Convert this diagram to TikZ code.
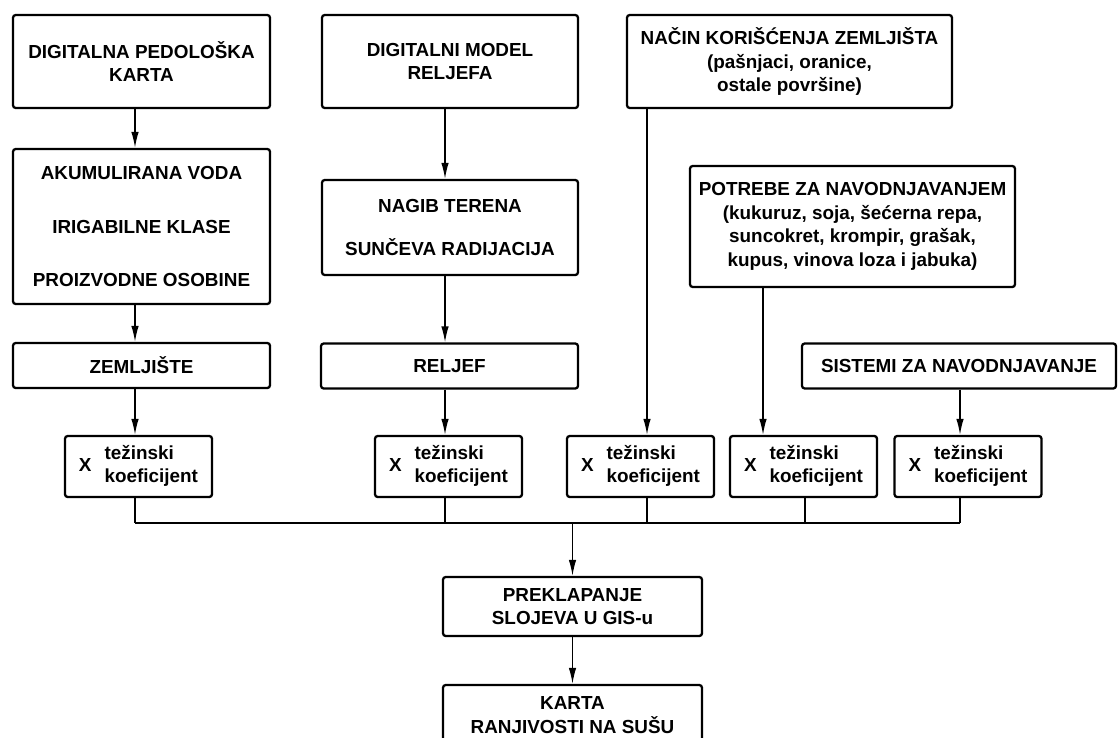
\documentclass[tikz,border=0pt]{standalone}
\usepackage{fontspec}
\setmainfont{Liberation Sans}
\usetikzlibrary{arrows.meta,positioning,calc}

\begin{document}
\begin{tikzpicture}[
  x=0.02cm, y=-0.02cm,
  font=\fontsize{10.75}{13.4}\selectfont\bfseries,
  box/.style={rectangle, draw, line width=1.3pt, rounded corners=1.5pt,
              align=center, inner sep=0pt},
  wbox/.style={box, minimum width=2.94cm, minimum height=1.22cm},
  link/.style={line width=0.8pt},
  arr/.style={link, -{Latex[length=3.2mm, width=1.5mm]}},
]
\useasboundingbox (0,0) rectangle (1118,737);
\clip (0,0) rectangle (1118,737);

% columns of the connectors
\coordinate (colA) at (135,0);
\coordinate (colB) at (445,0);
\coordinate (colC) at (647,0);
\coordinate (colD) at (763,0);
\coordinate (colE) at (960,0);
\coordinate (colF) at (805,0);

% soil
\node[box, minimum width=5.14cm, minimum height=1.86cm] (a1) at (141.5,61.5)
  {DIGITALNA PEDOLOŠKA\\KARTA};
\node[box, minimum width=5.14cm, minimum height=3.10cm] (a2) at (141.5,226.5)
  {AKUMULIRANA VODA\\[17pt]IRIGABILNE KLASE\\[17pt]PROIZVODNE OSOBINE};
\node[box, minimum width=5.14cm, minimum height=0.9cm] (a3) at (141.5,365.5)
  {ZEMLJIŠTE};

% relief
\node[box, minimum width=5.12cm, minimum height=1.86cm] (b1) at (450,61.5)
  {DIGITALNI MODEL\\RELJEFA};
\node[box, minimum width=5.12cm, minimum height=1.9cm] (b2) at (450,227.5)
  {NAGIB TERENA\\[11.6pt]SUNČEVA RADIJACIJA};
\node[box, minimum width=5.14cm, minimum height=0.9cm] (b3) at (449.5,366)
  {RELJEF};

% land use, irrigation
\node[box, minimum width=6.5cm, minimum height=1.86cm] (c1) at (789.5,61.5)
  {NAČIN KORIŠĆENJA ZEMLJIŠTA\\(pašnjaci, oranice,\\ostale površine)};
\node[box, minimum width=6.5cm, minimum height=2.42cm] (c2) at (852.5,226.5)
  {POTREBE ZA NAVODNJAVANJEM\\(kukuruz, soja, šećerna repa,\\suncokret, krompir, grašak,\\kupus, vinova loza i jabuka)};
\node[box, minimum width=6.28cm, minimum height=0.9cm] (sis) at (959,366)
  {SISTEMI ZA NAVODNJAVANJE};

% weights
\foreach \n/\x in {w1/138.5, w2/448.5, w3/640.5, w4/803.5, w5/968}
  \node[wbox] (\n) at (\x,466.5)
    {X\hspace{7.4pt}\begin{tabular}{@{}l@{}}težinski\\koeficijent\end{tabular}};

% overlay and result
\node[box, minimum width=5.18cm, minimum height=1.18cm] (gis) at (572.5,606.5)
  {PREKLAPANJE\\SLOJEVA U GIS-u};
\node[box, minimum width=5.18cm, minimum height=1.2cm] (karta) at (572.5,715)
  {KARTA\\RANJIVOSTI NA SUŠU};

% arrows down the columns
\draw[arr] (a1.south -| colA) -- (a2.north -| colA);
\draw[arr] (a2.south -| colA) -- (a3.north -| colA);
\draw[arr] (a3.south -| colA) -- (w1.north -| colA);
\draw[arr] (b1.south -| colB) -- (b2.north -| colB);
\draw[arr] (b2.south -| colB) -- (b3.north -| colB);
\draw[arr] (b3.south -| colB) -- (w2.north -| colB);
\draw[arr] (c1.south -| colC) -- (w3.north -| colC);
\draw[arr] (c2.south -| colD) -- (w4.north -| colD);
\draw[arr] (sis.south -| colE) -- (w5.north -| colE);

% collecting line
\coordinate (busL) at (135,523);
\coordinate (busR) at (960,523);
\draw[link] (busL) -- (busR);
\foreach \w/\c in {w1/colA, w2/colB, w3/colC, w4/colF, w5/colE}
  \draw[link] (\w.south -| \c) -- (\c |- busL);
\draw[arr] (gis.north |- busL) -- (gis.north);
\draw[arr] (gis) -- (karta);
\end{tikzpicture}
\end{document}
